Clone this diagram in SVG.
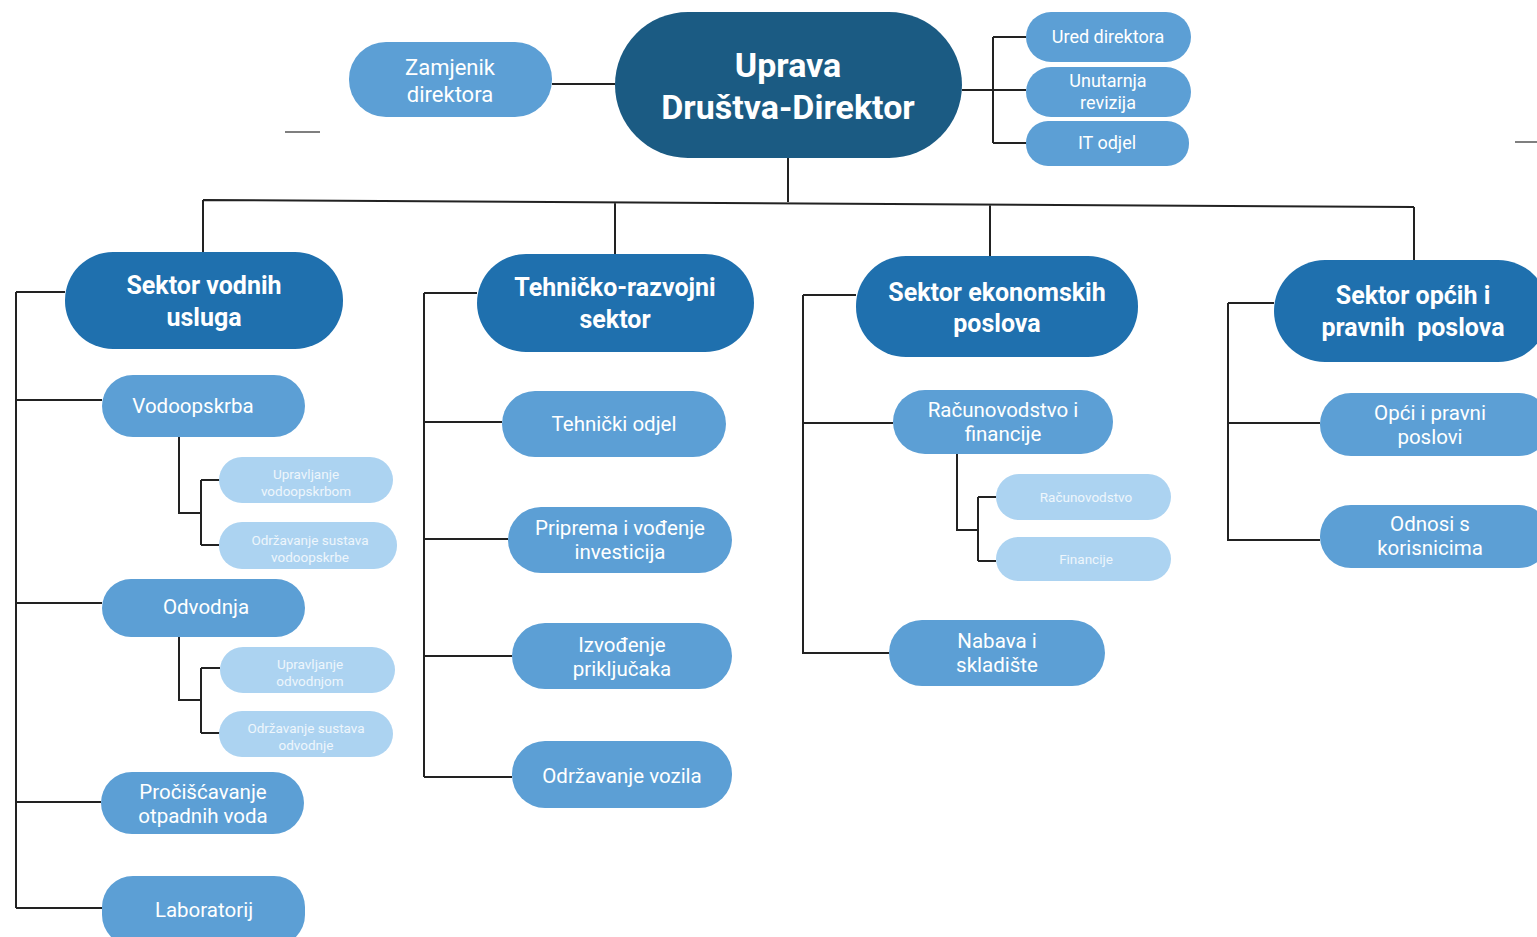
<svg xmlns="http://www.w3.org/2000/svg" width="1537" height="937" viewBox="0 0 1537 937">
<style>
.top{fill:#1b5b83}
.sec{fill:#1f70ae}
.mid{fill:#5c9fd5}
.lt{fill:#acd3f1}
text{font-family:Roboto,"Liberation Sans",sans-serif;text-anchor:middle;fill:#ffffff;white-space:pre}
.t1{font-size:34px;font-weight:bold}
.t2{font-size:25px;font-weight:bold}
.t3{font-size:20.5px}
.t4{font-size:13.5px;fill:#eef6fc}
.t5{font-size:18px}
.t6{font-size:22px}
.ln{fill:none;stroke:#222;stroke-width:2}
</style>
<rect width="1537" height="937" fill="#ffffff"/>
<g id="connectors" class="ln">
<path d="M552 84H615"/>
<path d="M962 90H993M993 37V143M993 37H1026M993 90H1026M993 143H1026"/>
<path d="M788 158V202M203 200L1414 207M203 200V252M615 202V254M990 205V256M1414 207V260"/>
<path d="M16 292H65M16 292V908M16 400H102M16 603H102M16 802H101M16 908H102"/>
<path d="M179 437V513H201M201 480V545M201 480H220M201 545H220"/>
<path d="M179 637V700H201M201 668V733M201 668H220M201 733H220"/>
<path d="M424 293H477M424 293V777M424 422H502M424 539H508M424 656H512M424 777H512"/>
<path d="M803 295H856M803 295V653H889M803 423H893"/>
<path d="M957 454V530H978M978 497V561M978 497H996M978 561H996"/>
<path d="M1228 303H1274M1228 303V540H1320M1228 423H1320"/>
</g>
<g id="artifacts" stroke="#555" stroke-width="1.5">
<path d="M285 132H320"/>
<path d="M1515 142H1537"/>
</g>
<g id="n-uprava"><rect class="top" x="615" y="12" width="347" height="146" rx="73"/><text class="t1" x="788" y="77">Uprava</text><text class="t1" x="788" y="119">Društva-Direktor</text></g>
<g id="n-zamjenik"><rect class="mid" x="349" y="42" width="203" height="75" rx="37"/><text class="t6" x="450" y="75">Zamjenik</text><text class="t6" x="450" y="102">direktora</text></g>
<g id="n-ured"><rect class="mid" x="1026" y="12" width="165" height="50" rx="25"/><text class="t5" x="1108" y="43">Ured direktora</text></g>
<g id="n-revizija"><rect class="mid" x="1026" y="67" width="165" height="50" rx="25"/><text class="t5" x="1108" y="87">Unutarnja</text><text class="t5" x="1108" y="109">revizija</text></g>
<g id="n-it"><rect class="mid" x="1026" y="121" width="163" height="45" rx="22"/><text class="t5" x="1107" y="149">IT odjel</text></g>

<g id="n-svu"><rect class="sec" x="65" y="252" width="278" height="97" rx="48"/><text class="t2" x="204" y="294">Sektor vodnih</text><text class="t2" x="204" y="326">usluga</text></g>
<g id="n-trs"><rect class="sec" x="477" y="254" width="277" height="98" rx="49"/><text class="t2" x="615" y="296">Tehničko-razvojni</text><text class="t2" x="615" y="328">sektor</text></g>
<g id="n-sep"><rect class="sec" x="856" y="256" width="282" height="101" rx="50"/><text class="t2" x="997" y="301">Sektor ekonomskih</text><text class="t2" x="997" y="332">poslova</text></g>
<g id="n-sopp"><rect class="sec" x="1274" y="260" width="275" height="102" rx="51"/><text class="t2" x="1413" y="304">Sektor općih i</text><text class="t2" x="1413" y="336">pravnih  poslova</text></g>

<g id="n-vodoopskrba"><rect class="mid" x="102" y="375" width="203" height="62" rx="31"/><text class="t3" x="193" y="413">Vodoopskrba</text></g>
<g id="n-upr-vod"><rect class="lt" x="219" y="457" width="174" height="46" rx="23"/><text class="t4" x="306" y="479">Upravljanje</text><text class="t4" x="306" y="496">vodoopskrbom</text></g>
<g id="n-odr-vod"><rect class="lt" x="219" y="522" width="178" height="47" rx="23"/><text class="t4" x="310" y="545">Održavanje sustava</text><text class="t4" x="310" y="562">vodoopskrbe</text></g>
<g id="n-odvodnja"><rect class="mid" x="102" y="579" width="203" height="58" rx="29"/><text class="t3" x="206" y="614">Odvodnja</text></g>
<g id="n-upr-odv"><rect class="lt" x="220" y="647" width="175" height="46" rx="23"/><text class="t4" x="310" y="669">Upravljanje</text><text class="t4" x="310" y="686">odvodnjom</text></g>
<g id="n-odr-odv"><rect class="lt" x="219" y="711" width="174" height="46" rx="23"/><text class="t4" x="306" y="733">Održavanje sustava</text><text class="t4" x="306" y="750">odvodnje</text></g>
<g id="n-prociscavanje"><rect class="mid" x="101" y="772" width="203" height="62" rx="31"/><text class="t3" x="203" y="799">Pročišćavanje</text><text class="t3" x="203" y="823">otpadnih voda</text></g>
<g id="n-laboratorij"><rect class="mid" x="102" y="876" width="203" height="70" rx="31"/><text class="t3" x="204" y="917">Laboratorij</text></g>

<g id="n-tehnicki"><rect class="mid" x="502" y="391" width="224" height="66" rx="33"/><text class="t3" x="614" y="431">Tehnički odjel</text></g>
<g id="n-priprema"><rect class="mid" x="508" y="507" width="224" height="66" rx="33"/><text class="t3" x="620" y="535">Priprema i vođenje</text><text class="t3" x="620" y="559">investicija</text></g>
<g id="n-izvodenje"><rect class="mid" x="512" y="623" width="220" height="66" rx="33"/><text class="t3" x="622" y="652">Izvođenje</text><text class="t3" x="622" y="676">priključaka</text></g>
<g id="n-vozila"><rect class="mid" x="512" y="741" width="220" height="67" rx="33"/><text class="t3" x="622" y="783">Održavanje vozila</text></g>

<g id="n-racfin"><rect class="mid" x="893" y="390" width="220" height="64" rx="32"/><text class="t3" x="1003" y="417">Računovodstvo i</text><text class="t3" x="1003" y="441">financije</text></g>
<g id="n-racunovodstvo"><rect class="lt" x="996" y="474" width="175" height="46" rx="23"/><text class="t4" x="1086" y="502">Računovodstvo</text></g>
<g id="n-financije"><rect class="lt" x="996" y="537" width="175" height="44" rx="22"/><text class="t4" x="1086" y="564">Financije</text></g>
<g id="n-nabava"><rect class="mid" x="889" y="620" width="216" height="66" rx="33"/><text class="t3" x="997" y="648">Nabava i</text><text class="t3" x="997" y="672">skladište</text></g>

<g id="n-opci"><rect class="mid" x="1320" y="393" width="230" height="63" rx="31"/><text class="t3" x="1430" y="420">Opći i pravni</text><text class="t3" x="1430" y="444">poslovi</text></g>
<g id="n-odnosi"><rect class="mid" x="1320" y="505" width="230" height="63" rx="31"/><text class="t3" x="1430" y="531">Odnosi s</text><text class="t3" x="1430" y="555">korisnicima</text></g>
</svg>
